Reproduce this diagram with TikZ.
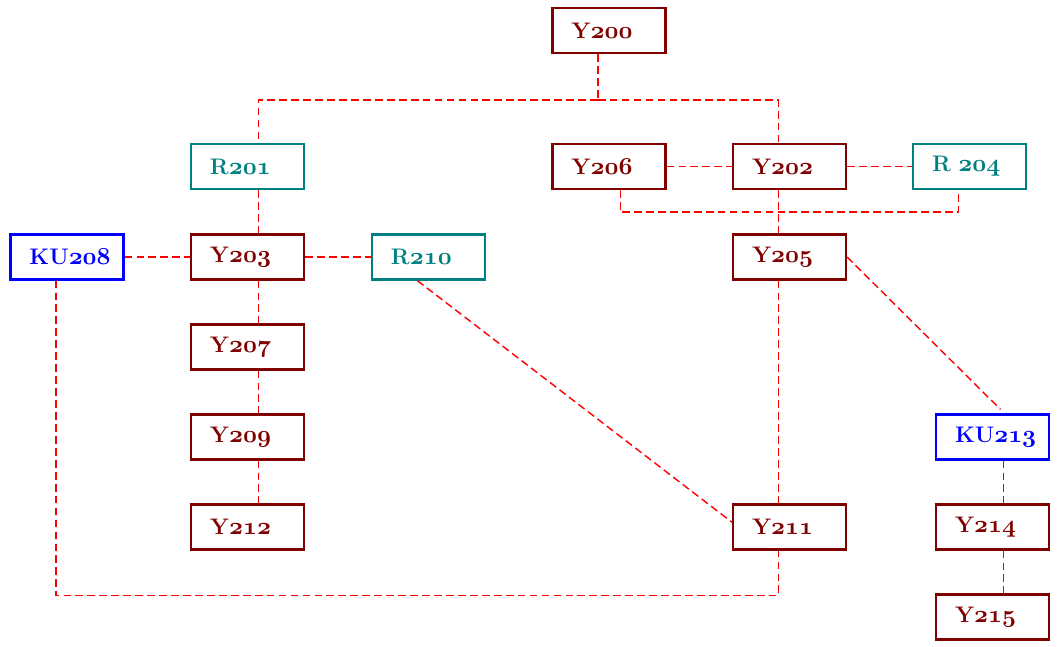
\documentclass[tikz,border=0pt]{standalone}
\usetikzlibrary{positioning}
\definecolor{boxred}{RGB}{128,0,0}
\definecolor{boxteal}{RGB}{0,128,128}
\definecolor{boxblue}{RGB}{0,0,255}
\tikzset{
  unitbox/.style={draw, line width=1.5pt, fill=white, text width=1.875cm, inner xsep=0.475cm,
    minimum height=1.125cm, align=left, font=\fontsize{16}{18}\selectfont\bfseries},
  ybox/.style={unitbox, draw=boxred, text=boxred},
  rbox/.style={unitbox, draw=boxteal, text=boxteal},
  kubox/.style={unitbox, draw=boxblue, text=boxblue},
  link/.style={red, line width=1pt, dash pattern=on 5.5pt off 3pt}
}
\newcommand{\lnoff}{0.28cm}
\newcommand{\nr}[1]{{\usefont{OML}{cmm}{b}{it}#1}}
\begin{document}
\begin{tikzpicture}[x=0.025cm, y=-0.025cm]
\useasboundingbox (0,0) rectangle (1057,646);
% top row
\node[ybox] (y200) at (609,30.5) {Y\nr{200}};
\node[rbox] (r201) at (247.5,166.5) {R\nr{201}};
\node[ybox] (y206) at (609,166.5) {Y\nr{206}};
\node[ybox] (y202) at (789.5,166.5) {Y\nr{202}};
\node[rbox] (r204) at (969.5,166.5) {R \nr{204}};
% middle rows
\node[kubox] (ku208) at (67,257) {KU\nr{208}};
\node[ybox] (y203) at (247.5,257) {Y\nr{203}};
\node[rbox] (r210) at (428.5,257) {R\nr{210}};
\node[ybox] (y205) at (789.5,257) {Y\nr{205}};
\node[ybox] (y207) at (247.5,347) {Y\nr{207}};
\node[ybox] (y209) at (247.5,437) {Y\nr{209}};
\node[kubox] (ku213) at (992.5,437) {KU\nr{213}};
% bottom rows
\node[ybox] (y212) at (247.5,527) {Y\nr{212}};
\node[ybox] (y211) at (789.5,527) {Y\nr{211}};
\node[ybox] (y214) at (992.5,527) {Y\nr{214}};
\node[ybox] (y215) at (992.5,617) {Y\nr{215}};
% links
\draw[link] ([xshift=-\lnoff]y200.south) -- ++(0,46) coordinate (fork);
\draw[link] (fork) -| ([xshift=\lnoff]r201.north);
\draw[link] (fork) -| ([xshift=-\lnoff]y202.north);
\draw[link] (y206.east) -- (y202.west);
\draw[link] (y202.east) -- (r204.west);
\draw[link] ([xshift=\lnoff]y206.south) -- ++(0,22) -| ([xshift=-\lnoff]r204.south);
\draw[link] ([xshift=-\lnoff]y202.south) -- ([xshift=-\lnoff]y205.north);
\draw[link] ([xshift=\lnoff]r201.south) -- ([xshift=\lnoff]y203.north);
\draw[link] (ku208.east) -- (y203.west);
\draw[link] (y203.east) -- (r210.west);
\draw[link] ([xshift=\lnoff]y203.south) -- ([xshift=\lnoff]y207.north);
\draw[link] ([xshift=\lnoff]y207.south) -- ([xshift=\lnoff]y209.north);
\draw[link] ([xshift=\lnoff]y209.south) -- ([xshift=\lnoff]y212.north);
\draw[link] ([xshift=-\lnoff]r210.south) -- ([yshift=0.12cm]y211.west);
\draw[link] ([xshift=-\lnoff]y205.south) -- ([xshift=-\lnoff]y211.north);
\draw[link] (y205.east) -- ([xshift=0.2cm,yshift=0.1cm]ku213.north);
\draw[link] ([xshift=\lnoff]ku213.south) -- ([xshift=\lnoff]y214.north);
\draw[link] ([xshift=\lnoff]y214.south) -- ([xshift=\lnoff]y215.north);
\draw[link] ([xshift=-\lnoff]ku208.south) -- ++(0,315) -| ([xshift=-\lnoff]y211.south);
\end{tikzpicture}
\end{document}
